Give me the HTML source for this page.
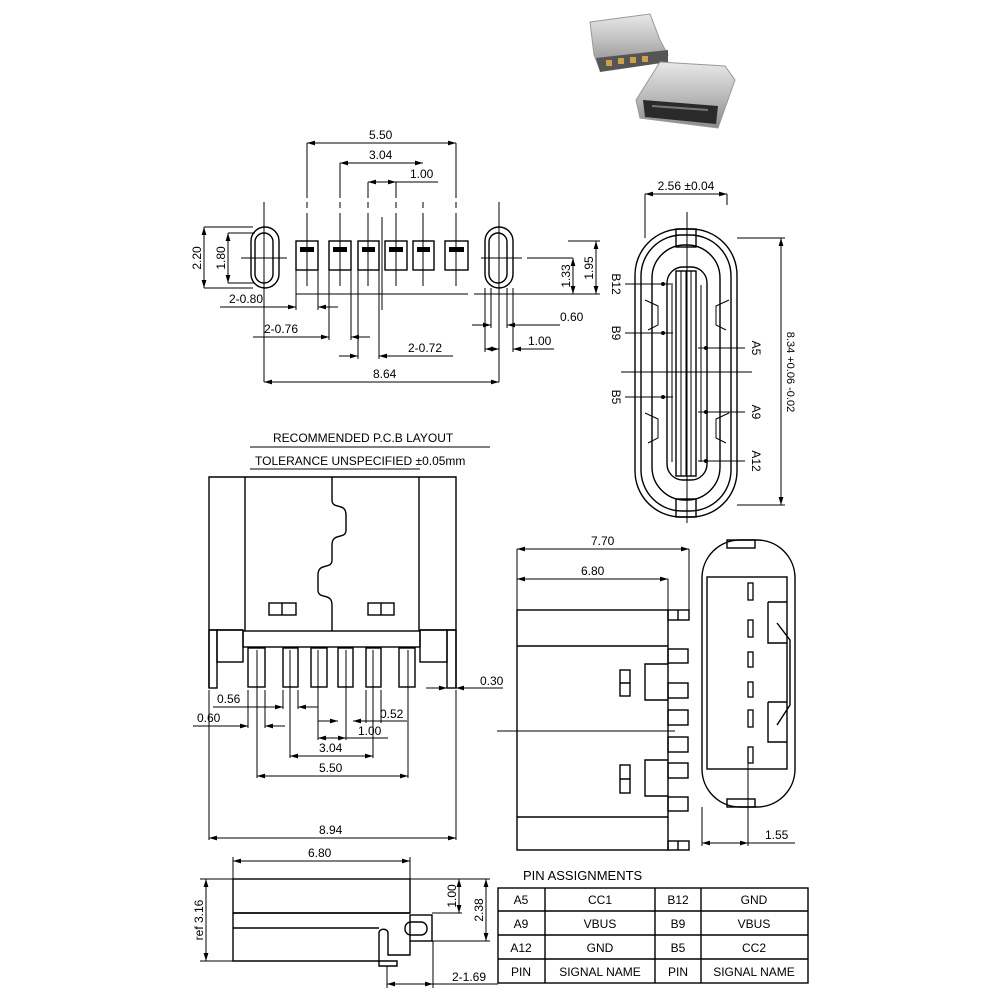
<!DOCTYPE html>
<html><head><meta charset="utf-8"><style>
html,body{margin:0;padding:0;background:#fff}
svg{display:block}
text{font-family:"Liberation Sans Narrow","Liberation Sans",sans-serif;font-size:12px;fill:#000}
.s{stroke:#000;stroke-width:1.4;fill:none}
.t{stroke:#000;stroke-width:1;fill:none}
.w{stroke:#000;stroke-width:1.4;fill:#fff}
</style></head><body>
<svg width="1002" height="1002" viewBox="0 0 1002 1002" xmlns="http://www.w3.org/2000/svg">
<defs>
<marker id="a" viewBox="0 0 10 6" refX="10" refY="3" markerWidth="8" markerHeight="5" orient="auto-start-reverse" markerUnits="userSpaceOnUse"><path d="M0,0L10,3L0,6z" fill="#000"/></marker>
<linearGradient id="m" x1="0" y1="0" x2="0" y2="1"><stop offset="0" stop-color="#e8e8e8"/><stop offset="0.5" stop-color="#bdbdbd"/><stop offset="1" stop-color="#8a8a8a"/></linearGradient>
</defs>

<!-- photo -->
<g>
<path d="M590,22 L650,14 L660,40 L668,55 L600,70 L594,55z" fill="url(#m)" stroke="#999"/>
<path d="M596,58 L668,50 L668,62 L600,72z" fill="#555"/>
<rect x="606" y="60" width="6" height="6" fill="#c9a24a"/><rect x="618" y="58" width="6" height="6" fill="#c9a24a"/><rect x="630" y="57" width="6" height="6" fill="#c9a24a"/><rect x="642" y="56" width="6" height="6" fill="#c9a24a"/>
<path d="M660,62 L725,66 L735,80 L718,128 L640,118 L636,100z" fill="url(#m)" stroke="#999"/>
<path d="M643,100 L718,106 L716,124 L645,117z" fill="#2a2a2a"/>
<path d="M652,106 L708,110" stroke="#777" stroke-width="2"/>
</g>

<!-- TOP PCB LAYOUT -->
<g class="s">
<rect x="251" y="227" width="28" height="61" rx="14"/>
<rect x="255" y="233" width="18" height="50" rx="9"/>
<rect x="485" y="227" width="28" height="61" rx="14"/>
<rect x="489" y="233" width="18" height="50" rx="9"/>
<rect x="296" y="241" width="22" height="29"/>
<rect x="329" y="241" width="22" height="29"/>
<rect x="358" y="241" width="21" height="29"/>
<rect x="385" y="241" width="22" height="29"/>
<rect x="413" y="241" width="21" height="29"/>
<rect x="445" y="241" width="23" height="29"/>
</g>
<g fill="#000">
<rect x="300" y="247" width="14" height="5"/><rect x="333" y="247" width="14" height="5"/><rect x="362" y="247" width="13" height="5"/>
<rect x="389" y="247" width="14" height="5"/><rect x="417" y="247" width="13" height="5"/><rect x="449" y="247" width="15" height="5"/>
</g>
<g class="t">
<path d="M307,202V208M307,213V286M340,202V208M340,213V286M368,202V208M368,213V286M396,202V208M396,213V286M423,202V208M423,213V286M456,202V208M456,213V286"/>
<path d="M264,202V382M499,202V382"/>
<path d="M241,258H287M481,258H522M527,258H573"/>
<path d="M296,294H468M474,294H600"/>
<path d="M382,217V310"/>
<path d="M307,143V198M456,143V198M340,163V198M368,182V198M396,182V198"/>
<path d="M204,227H253M204,288H253M228,233H255M228,283H255"/>
<path d="M568,241H600"/>
<path d="M296,270V310M318,270V310M329,270V340M351,270V340M358,270V359M379,270V359"/>
<path d="M491,288V328M507,288V328M485,288V352M513,288V352"/>
</g>
<g class="t">
<path d="M307,143H456" marker-start="url(#a)" marker-end="url(#a)"/>
<path d="M340,163H423" marker-start="url(#a)" marker-end="url(#a)"/>
<path d="M368,182H396" marker-start="url(#a)" marker-end="url(#a)"/><path d="M396,182H438"/>
<path d="M204,227V288" marker-start="url(#a)" marker-end="url(#a)"/>
<path d="M228,233V283" marker-start="url(#a)" marker-end="url(#a)"/>
<path d="M573,258V294" marker-start="url(#a)" marker-end="url(#a)"/>
<path d="M596,241V294" marker-start="url(#a)" marker-end="url(#a)"/>
<path d="M220,307H296" marker-end="url(#a)"/><path d="M338,307H318" marker-end="url(#a)"/>
<path d="M253,337H329" marker-end="url(#a)"/><path d="M370,337H351" marker-end="url(#a)"/>
<path d="M339,356H358" marker-end="url(#a)"/><path d="M453,356H379" marker-end="url(#a)"/>
<path d="M472,325H491" marker-end="url(#a)"/><path d="M560,325H507" marker-end="url(#a)"/>
<path d="M485,349H499" marker-start="url(#a)" marker-end="url(#a)"/><path d="M554,349H513" marker-end="url(#a)"/>
<path d="M264,382H499" marker-start="url(#a)" marker-end="url(#a)"/>
</g>
<text x="369" y="139">5.50</text>
<text x="369" y="159">3.04</text>
<text x="410" y="178">1.00</text>
<text x="229" y="303">2-0.80</text>
<text x="264" y="333">2-0.76</text>
<text x="408" y="352">2-0.72</text>
<text x="560" y="321">0.60</text>
<text x="528" y="345">1.00</text>
<text x="373" y="378">8.64</text>
<text transform="translate(201,258) rotate(-90)" text-anchor="middle">2.20</text>
<text transform="translate(225,258) rotate(-90)" text-anchor="middle">1.80</text>
<text transform="translate(570,276) rotate(-90)" text-anchor="middle">1.33</text>
<text transform="translate(593,268) rotate(-90)" text-anchor="middle">1.95</text>

<!-- connector face view -->
<g class="s">
<rect x="635" y="229" width="102" height="288" rx="46"/>
<rect x="641" y="235" width="90" height="276" rx="41"/>
<rect x="652" y="245" width="68" height="255" rx="33"/>
<rect x="667" y="267" width="40" height="213" rx="16"/>
<rect x="676" y="271" width="20" height="205"/>
<rect x="676" y="229" width="20" height="18"/>
<rect x="676" y="499" width="20" height="18"/>
</g>
<g class="t">
<path d="M681,271V476M686,271V476M691,271V476M672,285V462M701,285V462"/>
<path d="M687,212V523M621,372H752"/>
<path d="M645,194V238M727,194V205"/>
<path d="M645,194H727" marker-start="url(#a)" marker-end="url(#a)"/>
<path d="M737,238H785M737,505H785"/>
<path d="M781,238V505" marker-start="url(#a)" marker-end="url(#a)"/>
<path d="M625,284H673M625,333H673M625,397H673M698,348H745M698,412H745M698,461H745"/>
<path d="M645,300L658,306V325L648,330M645,413L658,419V438L648,443M729,300L716,306V325L726,330M729,413L716,419V438L726,443"/>
</g>
<g fill="#000"><circle cx="663" cy="284" r="2"/><circle cx="663" cy="333" r="2"/><circle cx="663" cy="397" r="2"/><circle cx="706" cy="348" r="2"/><circle cx="706" cy="412" r="2"/><circle cx="706" cy="461" r="2"/></g>
<text x="686" y="190" text-anchor="middle">2.56 ±0.04</text>
<text transform="translate(612,284) rotate(90)" text-anchor="middle">B12</text>
<text transform="translate(612,333) rotate(90)" text-anchor="middle">B9</text>
<text transform="translate(612,397) rotate(90)" text-anchor="middle">B5</text>
<text transform="translate(752,348) rotate(90)" text-anchor="middle">A5</text>
<text transform="translate(752,412) rotate(90)" text-anchor="middle">A9</text>
<text transform="translate(752,461) rotate(90)" text-anchor="middle">A12</text>
<text transform="translate(787,372) rotate(90)" text-anchor="middle" style="font-size:11px">8.34 +0.06 -0.02</text>

<!-- RECOMMENDED -->
<text x="273" y="442">RECOMMENDED P.C.B LAYOUT</text>
<path class="t" d="M250,447H490"/>
<text x="255" y="465">TOLERANCE UNSPECIFIED ±0.05mm</text>
<path class="t" d="M250,469H420"/>

<!-- front view -->
<g class="s">
<path d="M209,688V477H456V688"/>
<path d="M245,477V631M419,477V631"/>
<path d="M332,477V500C332,510 346,502 346,515V530C346,540 332,532 332,545V560C332,570 318,562 318,575V590C318,600 332,592 332,605V631"/>
<rect x="243" y="631" width="177" height="16"/>
<path d="M209,630H243M420,630H456"/>
<rect x="209" y="630" width="8" height="58"/><rect x="447" y="630" width="9" height="58"/>
<rect x="217" y="630" width="26" height="32"/><rect x="420" y="630" width="27" height="32"/>
<rect x="248" y="648" width="17" height="39"/><rect x="283" y="648" width="15" height="39"/>
<rect x="311" y="648" width="16" height="39"/><rect x="338" y="648" width="15" height="39"/>
<rect x="366" y="648" width="15" height="39"/><rect x="399" y="648" width="16" height="39"/>
<rect x="269" y="603" width="27" height="12"/><rect x="368" y="603" width="26" height="12"/>
<path d="M282,603V615M381,603V615"/>
</g>
<g class="t">
<path d="M209,690V840M456,690V840M257,650V778M408,650V778M290,650V758M373,650V758M318,650V740M346,650V740"/>
<path d="M248,690V728M265,690V728M283,690V709M298,690V709M366,690V723M381,690V723"/>
<path d="M426,688H447" marker-end="url(#a)"/><path d="M503,688H456" marker-end="url(#a)"/>
<path d="M213,707H283" marker-end="url(#a)"/><path d="M318,707H298" marker-end="url(#a)"/>
<path d="M193,726H248" marker-end="url(#a)"/><path d="M285,726H265" marker-end="url(#a)"/>
<path d="M318,721H338" marker-end="url(#a)"/><path d="M407,721H353" marker-end="url(#a)"/>
<path d="M318,738H346" marker-start="url(#a)" marker-end="url(#a)"/><path d="M346,738H388"/>
<path d="M290,756H373" marker-start="url(#a)" marker-end="url(#a)"/>
<path d="M257,776H408" marker-start="url(#a)" marker-end="url(#a)"/>
<path d="M209,838H456" marker-start="url(#a)" marker-end="url(#a)"/>
</g>
<text x="480" y="685">0.30</text>
<text x="217" y="703">0.56</text>
<text x="197" y="722">0.60</text>
<text x="380" y="718">0.52</text>
<text x="358" y="735">1.00</text>
<text x="319" y="752">3.04</text>
<text x="319" y="772">5.50</text>
<text x="319" y="834">8.94</text>

<!-- side view -->
<g class="s">
<rect x="517" y="610" width="151" height="240"/>
<path d="M517,646H668M517,817H668"/>
<rect x="668" y="610" width="21" height="10"/><rect x="668" y="841" width="21" height="9"/>
<path d="M678,610V620M678,841V850"/>
<rect x="668" y="649" width="20" height="14"/><rect x="668" y="683" width="20" height="15"/>
<rect x="668" y="710" width="20" height="15"/><rect x="668" y="737" width="20" height="15"/>
<rect x="668" y="763" width="20" height="15"/><rect x="668" y="797" width="20" height="14"/>
<path d="M668,664H645V700H668M668,760H645V796H668"/>
<rect x="620" y="670" width="10" height="26"/><rect x="620" y="765" width="10" height="28"/>
<path d="M620,683H630M620,779H630"/>
</g>
<g class="t">
<path d="M517,549V610M689,549V610M668,579V610"/>
<path d="M517,549H689" marker-start="url(#a)" marker-end="url(#a)"/>
<path d="M517,579H668" marker-start="url(#a)" marker-end="url(#a)"/>
<path d="M497,731H675"/>
</g>
<text x="591" y="545">7.70</text>
<text x="581" y="575">6.80</text>

<!-- end view -->
<g class="s">
<rect x="702" y="540" width="93" height="267" rx="38"/>
<rect x="707" y="577" width="80" height="192"/>
<rect x="727" y="540" width="28" height="8"/><rect x="727" y="799" width="28" height="8"/>
<path d="M768,602H787M768,602V643H787M768,702H787M768,702V742H787"/>
<path d="M777,623L790,640V705L777,725"/>
</g>
<g fill="none" stroke="#000" stroke-width="1.3">
<rect x="748" y="583" width="5" height="17"/><rect x="748" y="620" width="5" height="17"/><rect x="748" y="652" width="5" height="15"/>
<rect x="748" y="682" width="5" height="15"/><rect x="748" y="710" width="5" height="17"/><rect x="748" y="747" width="5" height="16"/>
</g>
<g class="t">
<path d="M702,807V846M748,763V846"/>
<path d="M702,843H748" marker-start="url(#a)" marker-end="url(#a)"/><path d="M748,843H795"/>
</g>
<text x="765" y="839">1.55</text>

<!-- bottom side view -->
<g class="s">
<rect x="233" y="879" width="177" height="34"/>
<path d="M233,913V961H379V933C379,928 388,928 388,933V945"/>
<path d="M233,928H379M233,913H410"/>
<rect x="410" y="915" width="22" height="26"/>
<rect x="405" y="922" width="22" height="13" rx="6"/>
<path d="M379,961H397V966H379z"/>
<path d="M388,945V955H410V941"/>
</g>
<g class="t">
<path d="M233,879V857M410,879V857"/>
<path d="M233,861H410" marker-start="url(#a)" marker-end="url(#a)"/>
<path d="M200,879H233M200,961H233"/>
<path d="M206,879V961" marker-start="url(#a)" marker-end="url(#a)"/>
<path d="M410,879H490M432,913H462M432,941H490"/>
<path d="M459,879V913" marker-start="url(#a)" marker-end="url(#a)"/>
<path d="M486,879V941" marker-start="url(#a)" marker-end="url(#a)"/>
<path d="M387,966V988M433,941V988"/>
<path d="M387,984H433" marker-start="url(#a)" marker-end="url(#a)"/><path d="M433,984H498"/>
</g>
<text x="308" y="857">6.80</text>
<text transform="translate(203,920) rotate(-90)" text-anchor="middle">ref 3.16</text>
<text transform="translate(456,896) rotate(-90)" text-anchor="middle">1.00</text>
<text transform="translate(483,910) rotate(-90)" text-anchor="middle">2.38</text>
<text x="452" y="981">2-1.69</text>

<!-- table -->
<text x="523" y="880" style="font-size:13px">PIN ASSIGNMENTS</text>
<g class="s">
<rect x="498" y="888" width="310" height="95"/>
<path d="M498,911H808M498,935H808M498,959H808M545,888V983M655,888V983M701,888V983"/>
</g>
<g text-anchor="middle">
<text x="521" y="904">A5</text><text x="600" y="904">CC1</text><text x="678" y="904">B12</text><text x="754" y="904">GND</text>
<text x="521" y="928">A9</text><text x="600" y="928">VBUS</text><text x="678" y="928">B9</text><text x="754" y="928">VBUS</text>
<text x="521" y="952">A12</text><text x="600" y="952">GND</text><text x="678" y="952">B5</text><text x="754" y="952">CC2</text>
<text x="521" y="976">PIN</text><text x="600" y="976">SIGNAL NAME</text><text x="678" y="976">PIN</text><text x="754" y="976">SIGNAL NAME</text>
</g>
</svg>
</body></html>
